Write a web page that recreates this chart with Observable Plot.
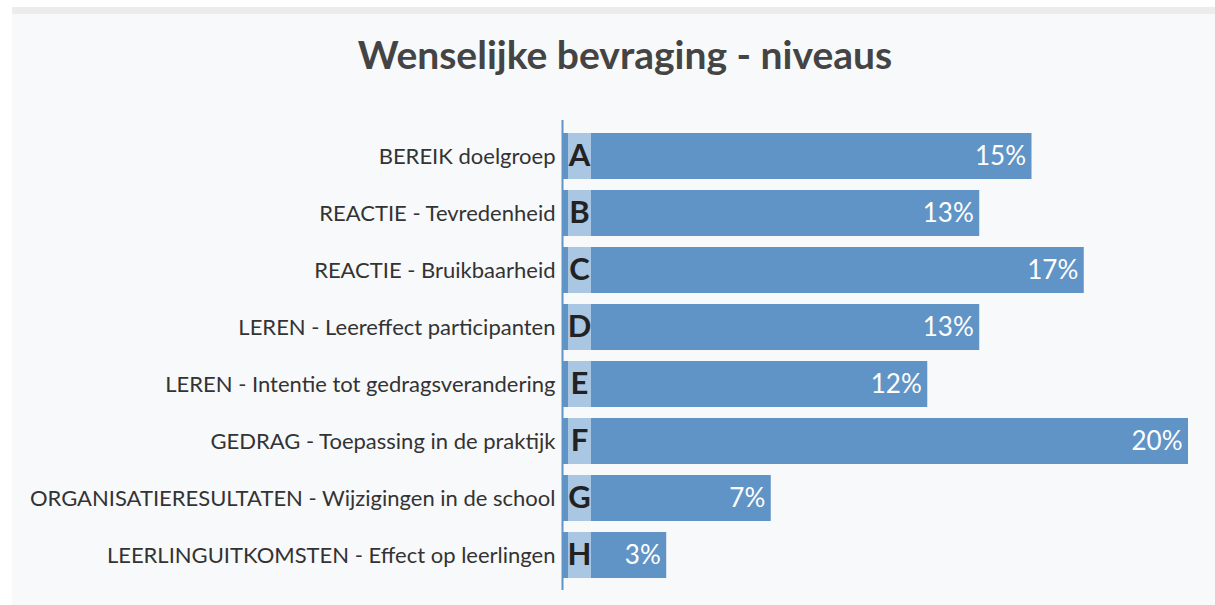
<!DOCTYPE html>
<html>
<head>
<meta charset="utf-8">
<script src="https://cdn.jsdelivr.net/npm/d3@7"></script>
<script src="https://cdn.jsdelivr.net/npm/@observablehq/plot@0.6"></script>
<style>
  html, body { margin: 0; padding: 0; background: #ffffff; }
  #panel {
    position: absolute; left: 12px; top: 7px; width: 1203px; height: 598px;
    background: #f8f9fb; border-top: 7px solid #ececec; box-sizing: border-box;
    overflow: hidden;
  }
  #title {
    position: absolute; left: 0; top: 18px; width: 1226px; text-align: center;
    font-family: Lato, "Open Sans", sans-serif; font-weight: 700; font-size: 39px;
    color: #444; margin: 0; line-height: 44px;
  }
  #chart { position: absolute; left: 0; top: 77px; }
  #chart svg { display: block; }
</style>
</head>
<body>
<div id="panel">
  <div id="title">Wenselijke bevraging - niveaus</div>
  <div id="chart"></div>
</div>
<script>
const categories = [
  "BEREIK doelgroep",
  "REACTIE - Tevredenheid",
  "REACTIE - Bruikbaarheid",
  "LEREN - Leereffect participanten",
  "LEREN - Intentie tot gedragsverandering",
  "GEDRAG - Toepassing in de praktijk",
  "ORGANISATIERESULTATEN - Wijzigingen in de school",
  "LEERLINGUITKOMSTEN - Effect op leerlingen"
];
const letters = ["A", "B", "C", "D", "E", "F", "G", "H"];
const values = [15, 13.33, 16.67, 13.33, 11.67, 20, 6.67, 3.33];
const valueLabels = ["15%", "13%", "17%", "13%", "12%", "20%", "7%", "3%"];

const data = categories.map((c, i) => ({category: c, letter: letters[i], value: values[i], label: valueLabels[i]}));

const chart = Plot.plot({
  width: 1203,
  height: 507,
  marginLeft: 550,
  marginRight: 27,
  marginTop: 29,
  marginBottom: 8,
  style: {background: "transparent", fontFamily: "Lato, 'Open Sans', sans-serif"},
  x: {domain: [0, 20], axis: null},
  y: {domain: categories, paddingInner: 0.2, paddingOuter: 0.2, label: null},
  marks: [
    Plot.axisY({tickSize: 0, tickPadding: 7, fontSize: 22, color: "#333", label: null}),
    Plot.barX(data, {x: "value", y: "category", fill: "#6194c6"}),
    Plot.tickX(data, {x: () => 0, y: "category", stroke: "#a9c6e3", strokeWidth: 23, dx: 17}),
    Plot.text(data, {x: () => 0, y: "category", text: "letter", dx: 17, fontSize: 31, fontWeight: 700, fill: "#222"}),
    Plot.text(data, {x: "value", y: "category", text: "label", textAnchor: "end", dx: -6, fontSize: 26, fill: "#ffffff"}),
    Plot.ruleX([0], {stroke: "#6194c6", strokeWidth: 2})
  ]
});
document.getElementById("chart").appendChild(chart);
</script>
</body>
</html>
